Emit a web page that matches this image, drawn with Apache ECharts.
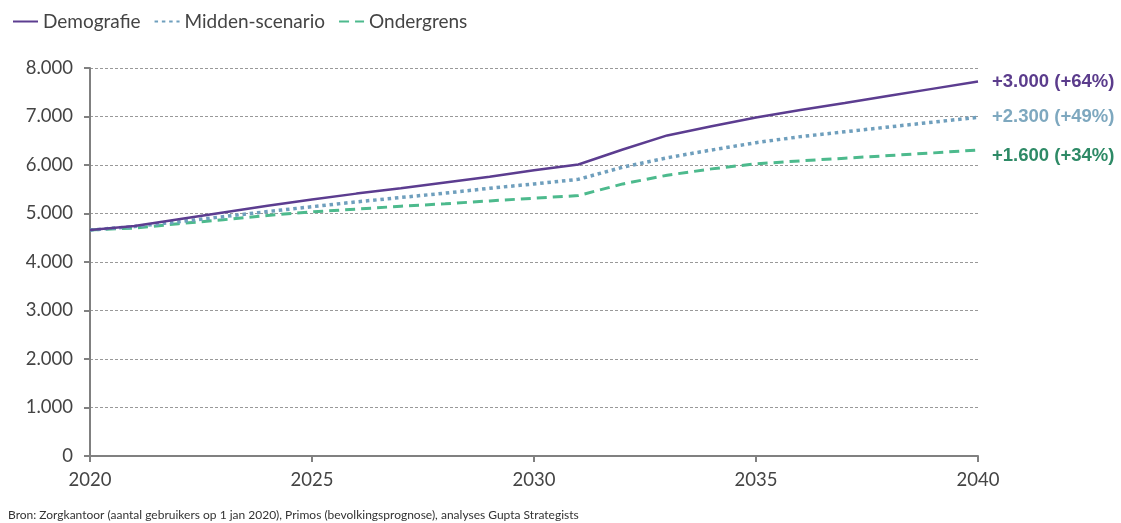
<!DOCTYPE html>
<html>
<head>
<meta charset="utf-8">
<script src="https://cdn.jsdelivr.net/npm/echarts@6/dist/echarts.min.js"></script>
<style>
html,body{margin:0;padding:0;background:#fff;}
#c{width:1121px;height:523px;}
</style>
</head>
<body>
<div id="c"></div>
<script>
const years = [2020,2021,2022,2023,2024,2025,2026,2027,2028,2029,2030,2031,2032,2033,2034,2035,2036,2037,2038,2039,2040];
const demografie = [4660,4740,4880,5020,5160,5290,5410,5520,5640,5760,5890,6010,6320,6610,6800,6980,7135,7280,7430,7575,7720];
const midden = [4660,4730,4830,4935,5040,5140,5240,5330,5420,5520,5610,5705,5955,6150,6310,6460,6585,6685,6785,6885,6983];
const ondergrens = [4660,4700,4790,4870,4960,5035,5090,5150,5200,5260,5315,5370,5610,5790,5920,6025,6085,6140,6195,6250,6310];
const seriesNames = ['Demografie','Midden-scenario','Ondergrens'];
const endLabels = ['+3.000 (+64%)','+2.300 (+49%)','+1.600 (+34%)'];
const sourceText = 'Bron: Zorgkantoor (aantal gebruikers op 1 jan 2020), Primos (bevolkingsprognose), analyses Gupta Strategists';

const lineColors = ['#5c3d90','#6f9fbd','#4dba8d'];
const labelColors = ['#5b3c8c','#7ea8bf','#2e8a66'];
const lineTypes = ['solid',[3.5,3.8],[10,6]];
const lineWidths = [2.5,3.5,3];
const labelOffsets = [[6,0],[6,0],[6,6]];

function fmt(v){ return String(v).replace(/\B(?=(\d{3})+(?!\d))/g,'.'); }

const data = [demografie, midden, ondergrens];
const chart = echarts.init(document.getElementById('c'));
chart.setOption({
  animation:false,
  legend:{
    left:7, top:7, itemWidth:25, itemHeight:10, itemGap:13,
    itemStyle:{opacity:0},
    textStyle:{fontFamily:'Lato', fontSize:19, color:'#444'},
    data:seriesNames
  },
  grid:{left:90, right:143, top:68, bottom:67},
  xAxis:{
    type:'value', min:2020, max:2040, interval:5,
    axisLine:{lineStyle:{color:'#808080', width:2}},
    axisTick:{show:true, length:6, lineStyle:{color:'#808080', width:2}},
    axisLabel:{fontFamily:'Lato', fontSize:18.5, color:'#444', margin:15, formatter:v=>String(v)},
    splitLine:{show:false}
  },
  yAxis:{
    type:'value', min:0, max:8000, interval:1000,
    axisLine:{show:true, lineStyle:{color:'#808080', width:2}},
    axisTick:{show:true, length:6, lineStyle:{color:'#808080', width:2}},
    axisLabel:{fontFamily:'Lato', fontSize:18.5, color:'#444', margin:17, formatter:v=>fmt(v)},
    splitLine:{show:true, lineStyle:{color:'#999', type:[3,2], width:1}}
  },
  series: seriesNames.map((n,i)=>({
    name:n, type:'line', symbol:'none', z:10-i,
    data: years.map((y,k)=>[y, data[i][k]]),
    lineStyle:{color:lineColors[i], width:lineWidths[i], type:lineTypes[i]},
    itemStyle:{color:lineColors[i]},
    endLabel:{show:true, formatter:endLabels[i], offset:labelOffsets[i],
      fontFamily:'Liberation Sans, Arial', fontWeight:'bold', fontSize:18.5, color:labelColors[i]}
  })),
  graphic:[{type:'text', left:8, top:509, style:{text:sourceText, font:'12px Lato', fill:'#333'}}]
});
</script>
</body>
</html>
